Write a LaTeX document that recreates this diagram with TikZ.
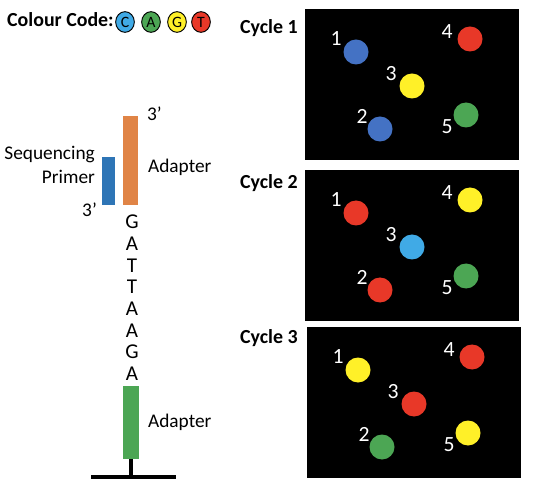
\documentclass[tikz,border=0pt]{standalone}
\usepackage{fontspec}
\setmainfont{Carlito}
\usepackage{tikz}
\usetikzlibrary{positioning,shapes.geometric}
\definecolor{dotblue}{RGB}{68,114,196}
\definecolor{dotred}{RGB}{232,56,40}
\definecolor{dotyellow}{RGB}{255,240,40}
\definecolor{dotgreen}{RGB}{76,166,84}
\definecolor{dotcyan}{RGB}{64,170,230}
\definecolor{adaptorange}{RGB}{224,132,70}
\definecolor{primerblue}{RGB}{46,117,182}

\begin{document}
\begin{tikzpicture}[x=0.03cm,y=-0.03cm,
  txt/.style={font=\fontsize{16.5}{20.5}\selectfont},
  head/.style={font=\bfseries\fontsize{17}{20}\selectfont,anchor=west},
  key/.style={ellipse,draw=black,line width=0.8pt,minimum width=0.56cm,minimum height=0.62cm,inner sep=0pt,font=\fontsize{13.5}{15}\selectfont},
  bar/.style={inner sep=0pt,minimum width=0.46cm},
  dot/.style={circle,inner sep=0pt,minimum size=0.75cm},
  num/.style={text=white,font=\fontsize{18.5}{20}\selectfont}]
  \useasboundingbox (0,0) rectangle (534,487);
  % colour code
  \node[head] (code) at (3,20) {Colour Code:};
  \foreach \b/\c/\x in {C/dotcyan/125,A/dotgreen/151,G/dotyellow/177,T/dotred/201}
    \node[key,fill=\c] (key\b) at (\x,22) {\b};
  % template strand
  \node[bar,fill=adaptorange,minimum height=2.67cm] (topad) at (130.5,160.5) {};
  \node[bar,fill=primerblue,minimum width=0.39cm,minimum height=1.44cm] (primer) at (108.5,181) {};
  \node[txt,anchor=west] (end1) at (143,114) {3’};
  \node[txt,anchor=east] (end2) at (101,210) {3’};
  \node[txt,align=right,anchor=east] (primlab) at (99,165) {Sequencing\\Primer};
  \node[txt,anchor=west] (toplab) at (144,167) {Adapter};
  \foreach \l [count=\i] in {G,A,T,T,A,A,G,A}
    \node[txt,font=\fontsize{18}{20}\selectfont,inner sep=0pt] (b\i) at (132,{222+21.7*(\i-1)}) {\l};
  \node[bar,fill=dotgreen,minimum height=2.19cm] (botad) at (131,422.5) {};
  \node[txt,anchor=west] (botlab) at (144,422) {Adapter};
  \coordinate (baseL) at (91,477);
  \coordinate (baseR) at (176,477);
  \coordinate (foot) at (131,477);
  \draw[line width=4pt] (baseL) -- (baseR);
  \draw[line width=4pt] (botad.south) -- (foot);
  % cycles
  \foreach \n/\bx/\by/\ty/\ca/\cb/\cc/\cd/\ce in {
      1/305/9/28/dotblue/dotblue/dotyellow/dotred/dotgreen,
      2/305/170/183/dotred/dotred/dotcyan/dotyellow/dotgreen,
      3/307/327/338/dotyellow/dotgreen/dotred/dotred/dotyellow}{
    \node[head] (cyc\n) at (236,\ty) {Cycle \n};
    \begin{scope}[shift={(\bx,\by)}]
      \node[fill=black,inner sep=0pt,minimum width=6.42cm,minimum height=4.53cm,anchor=north west] (box\n) at (0,0) {};
      \node[dot,fill=\ca] (d\n-1) at (51,43) {};
      \node[dot,fill=\cb] (d\n-2) at (75,120) {};
      \node[dot,fill=\cc] (d\n-3) at (107,77) {};
      \node[dot,fill=\cd] (d\n-4) at (165,30) {};
      \node[dot,fill=\ce] (d\n-5) at (161,106) {};
      \node[num] (n\n-1) at (31,30) {1};
      \node[num] (n\n-2) at (57,107) {2};
      \node[num] (n\n-3) at (86,65) {3};
      \node[num] (n\n-4) at (142,23) {4};
      \node[num] (n\n-5) at (142,118) {5};
    \end{scope}
  }
\end{tikzpicture}
\end{document}
